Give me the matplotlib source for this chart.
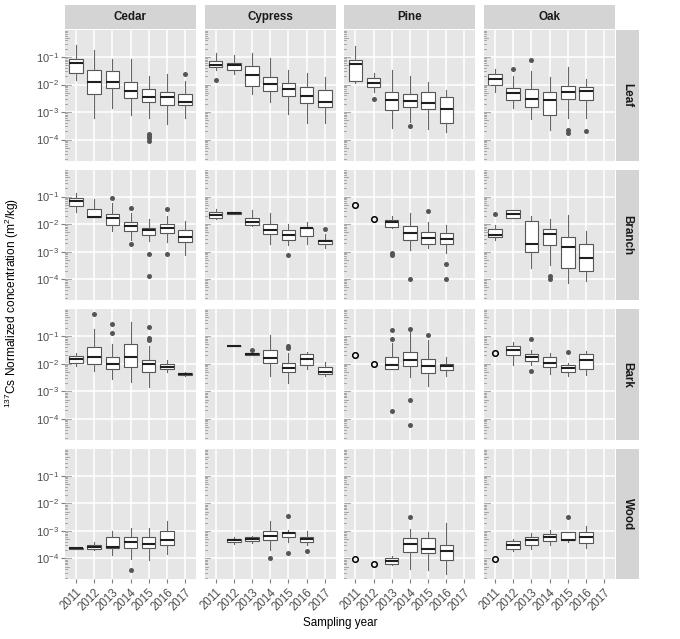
"""
Faceted boxplots of 137Cs normalized concentration by sampling year,
tree species (columns) and organ (rows). ggplot-like styling.
"""

import matplotlib
matplotlib.use("Agg")
import matplotlib.pyplot as plt
import numpy as np

plt.rcParams.update({
    "font.family": ["Liberation Sans", "DejaVu Sans"],
    "mathtext.fontset": "custom",
    "mathtext.rm": "Liberation Sans",
    "mathtext.it": "Liberation Sans:italic",
    "mathtext.bf": "Liberation Sans:bold",
})

YEARS = [2011, 2012, 2013, 2014, 2015, 2016, 2017]
SPECIES = ["Cedar", "Cypress", "Pine", "Oak"]
ORGANS = ["Leaf", "Branch", "Bark", "Wood"]

# box stats, log10 of concentration: (whisker low, q1, median, q3, whisker high)
leaf_cedar = [(-1.85, -1.59, -1.22, -1.06, -0.55), (-3.21, -2.35, -1.90, -1.49, -0.73),
              (-2.85, -2.13, -1.90, -1.51, -1.07), (-3.11, -2.50, -2.24, -1.90, -1.07),
              (-3.23, -2.65, -2.44, -2.15, -1.70), (-3.45, -2.76, -2.46, -2.28, -1.63),
              (-3.21, -2.76, -2.65, -2.33, -1.88)]
leaf_cypress = [(-1.46, -1.38, -1.28, -1.16, -0.85), (-1.61, -1.48, -1.30, -1.21, -0.91),
                (-2.35, -2.05, -1.66, -1.33, -0.85), (-2.62, -2.24, -1.98, -1.72, -1.05),
                (-3.07, -2.40, -2.17, -1.94, -1.48), (-3.39, -2.66, -2.40, -2.10, -1.57),
                (-3.39, -2.80, -2.65, -2.20, -1.73)]
leaf_pine = [(-1.95, -1.87, -1.24, -1.11, -0.61), (-2.26, -2.10, -1.94, -1.78, -1.57),
             (-3.57, -2.93, -2.55, -2.28, -1.49), (-3.37, -2.80, -2.60, -2.34, -1.68),
             (-3.61, -2.90, -2.68, -2.28, -1.90), (-3.72, -3.38, -2.88, -2.44, -2.20),
             None]
leaf_oak = [(-2.26, -2.02, -1.80, -1.63, -1.45), (-2.87, -2.57, -2.30, -2.13, -1.68),
            (-3.27, -2.80, -2.51, -2.18, -1.52), (-3.67, -3.12, -2.55, -2.27, -1.72),
            (-3.20, -2.54, -2.27, -2.04, -1.35), (-3.23, -2.56, -2.23, -2.10, -1.79),
            None]

branch_cedar = [(-1.57, -1.33, -1.15, -1.06, -0.88), (-1.73, -1.73, -1.73, -1.46, -1.10),
                (-2.24, -2.04, -1.79, -1.65, -1.24), (-2.59, -2.24, -2.07, -1.93, -1.59),
                (-2.61, -2.41, -2.23, -2.15, -1.83), (-2.65, -2.34, -2.13, -2.00, -1.71),
                (-3.13, -2.65, -2.46, -2.23, -1.88)]
branch_cypress = [(-1.80, -1.77, -1.67, -1.56, -1.44), (-1.65, -1.63, -1.60, -1.57, -1.55),
                  (-2.07, -2.05, -1.91, -1.78, -1.49), (-2.71, -2.37, -2.20, -2.01, -1.59),
                  (-2.76, -2.56, -2.41, -2.23, -2.01), (-2.74, -2.44, -2.15, -2.13, -1.93),
                  (-2.88, -2.73, -2.62, -2.56, -2.37)]
branch_pine = [None, None,
               (-2.13, -2.10, -1.94, -1.85, -1.71), (-2.95, -2.56, -2.32, -2.07, -1.59),
               (-2.85, -2.71, -2.52, -2.29, -1.93), (-3.05, -2.74, -2.54, -2.34, -2.04),
               None]
branch_oak = [(-2.59, -2.46, -2.40, -2.17, -2.05), (-1.79, -1.79, -1.63, -1.50, -1.50),
              (-3.61, -3.01, -2.74, -1.90, -1.71), (-3.50, -2.77, -2.37, -2.16, -1.83),
              (-4.13, -3.59, -2.84, -2.45, -1.67), (-4.06, -3.70, -3.23, -2.72, -2.24),
              None]

bark_cedar = [(-2.10, -1.98, -1.83, -1.73, -1.61), (-2.26, -2.00, -1.77, -1.41, -0.73),
              (-2.54, -2.20, -2.01, -1.77, -1.28), (-2.65, -2.12, -1.77, -1.27, -0.48),
              (-2.85, -2.29, -2.01, -1.87, -1.37), (-2.29, -2.21, -2.11, -2.00, -1.85),
              (-2.44, -2.41, -2.39, -2.34, -2.29)]
bark_cypress = [None, (-1.37, -1.37, -1.37, -1.37, -1.37),
                (-1.70, -1.70, -1.65, -1.61, -1.61), (-2.46, -1.98, -1.80, -1.49, -0.94),
                (-2.71, -2.30, -2.16, -1.98, -1.61), (-2.20, -2.04, -1.83, -1.65, -1.59),
                (-2.43, -2.38, -2.29, -2.13, -1.95)]
bark_pine = [None, None,
             (-2.20, -2.20, -2.04, -1.77, -1.24), (-2.50, -2.10, -1.88, -1.59, -0.76),
             (-2.80, -2.34, -2.09, -1.82, -1.15), (-2.43, -2.22, -2.10, -2.00, -1.77),
             None]
bark_oak = [None, (-2.04, -1.68, -1.49, -1.34, -1.21),
            (-2.04, -1.89, -1.74, -1.65, -1.49), (-2.39, -2.13, -1.96, -1.76, -1.61),
            (-2.46, -2.29, -2.16, -2.06, -1.98), (-2.41, -2.20, -1.88, -1.65, -1.54),
            None]

wood_cedar = [(-3.66, -3.66, -3.63, -3.61, -3.61), (-3.68, -3.66, -3.60, -3.52, -3.40),
              (-3.87, -3.63, -3.57, -3.24, -3.00), (-4.04, -3.61, -3.39, -3.21, -2.90),
              (-4.06, -3.62, -3.46, -3.24, -2.89), (-3.83, -3.52, -3.32, -3.02, -2.63),
              None]
wood_cypress = [None, (-3.49, -3.41, -3.34, -3.29, -3.24),
                (-3.44, -3.37, -3.28, -3.23, -3.20), (-3.68, -3.34, -3.17, -2.99, -2.65),
                (-3.40, -3.23, -3.09, -3.04, -2.96), (-3.52, -3.41, -3.30, -3.22, -3.02),
                None]
wood_pine = [None, None,
             (-4.24, -4.22, -4.09, -3.99, -3.91), (-4.39, -3.76, -3.49, -3.26, -2.94),
             (-4.41, -3.80, -3.66, -3.26, -3.04), (-4.57, -4.07, -3.73, -3.50, -2.71),
             None]
wood_oak = [None, (-3.73, -3.65, -3.50, -3.38, -3.29),
            (-3.66, -3.50, -3.34, -3.21, -3.07), (-3.51, -3.38, -3.22, -3.10, -2.98),
            (-3.40, -3.35, -3.32, -3.05, -3.04), (-3.62, -3.45, -3.24, -3.05, -2.84),
            None]

# outliers (year, log10 value)
leaf_cedar_out = [(2015, -3.78), (2015, -3.88), (2015, -3.96), (2015, -4.05), (2017, -1.61)]
leaf_cypress_out = [(2011, -1.83)]
leaf_pine_out = [(2012, -2.54), (2014, -3.52)]
leaf_oak_out = [(2012, -1.44), (2013, -1.12), (2015, -3.66), (2015, -3.76), (2016, -3.68)]
branch_cedar_out = [(2013, -1.04), (2014, -1.40), (2014, -2.74), (2015, -3.09), (2015, -3.89),
                    (2016, -1.44), (2016, -3.09)]
branch_cypress_out = [(2015, -3.11), (2017, -2.17)]
branch_pine_out = [(2013, -3.04), (2013, -3.12), (2014, -4.01), (2015, -1.52),
                   (2016, -3.45), (2016, -4.01)]
branch_oak_out = [(2011, -1.63), (2014, -3.90), (2014, -4.00)]
bark_cedar_out = [(2012, -0.21), (2013, -0.56), (2013, -0.88), (2015, -0.68), (2015, -1.07),
                  (2015, -1.15)]
bark_cypress_out = [(2013, -1.49), (2015, -1.37), (2015, -1.44)]
bark_pine_out = [(2013, -0.79), (2013, -1.11), (2013, -3.73), (2014, -0.73), (2014, -3.32),
                 (2014, -4.23), (2015, -0.95)]
bark_oak_out = [(2013, -1.12), (2013, -2.26), (2015, -1.57)]
wood_cedar_out = [(2014, -4.43)]
wood_cypress_out = [(2014, -3.99), (2015, -2.46), (2015, -3.79), (2016, -3.74)]
wood_pine_out = [(2014, -2.50)]
wood_oak_out = [(2015, -2.51)]

# single measurements drawn as open circles (year, log10 value)
branch_pine_single = [(2011, -1.30), (2012, -1.80)]
bark_pine_single = [(2011, -1.68), (2012, -2.00)]
bark_oak_single = [(2011, -1.60)]
wood_pine_single = [(2011, -4.01), (2012, -4.22)]
wood_oak_single = [(2011, -4.04)]

BOXES = {
    "Leaf": [leaf_cedar, leaf_cypress, leaf_pine, leaf_oak],
    "Branch": [branch_cedar, branch_cypress, branch_pine, branch_oak],
    "Bark": [bark_cedar, bark_cypress, bark_pine, bark_oak],
    "Wood": [wood_cedar, wood_cypress, wood_pine, wood_oak],
}
OUTLIERS = {
    "Leaf": [leaf_cedar_out, leaf_cypress_out, leaf_pine_out, leaf_oak_out],
    "Branch": [branch_cedar_out, branch_cypress_out, branch_pine_out, branch_oak_out],
    "Bark": [bark_cedar_out, bark_cypress_out, bark_pine_out, bark_oak_out],
    "Wood": [wood_cedar_out, wood_cypress_out, wood_pine_out, wood_oak_out],
}
SINGLES = {
    ("Branch", "Pine"): branch_pine_single,
    ("Bark", "Pine"): bark_pine_single,
    ("Bark", "Oak"): bark_oak_single,
    ("Wood", "Pine"): wood_pine_single,
    ("Wood", "Oak"): wood_oak_single,
}

W, H = 680, 639
PANEL_BG = "#E6E6E6"
STRIP_BG = "#D4D4D4"
TEXT_GREY = "#4D4D4D"


def px_rect(x0, y0, w, h):
    return [x0 / W, 1 - (y0 + h) / H, w / W, h / H]


fig = plt.figure(figsize=(W / 100, H / 100), dpi=100)

col_left = [65 + i * 139.7 for i in range(4)]
row_top = [30 + i * 139.6 for i in range(4)]
pw, ph = 131, 130.5
ylo, yhi = 10 ** -4.76, 10 ** -0.02

for r, organ in enumerate(ORGANS):
    for c, sp in enumerate(SPECIES):
        ax = fig.add_axes(px_rect(col_left[c], row_top[r], pw, ph))
        ax.set_facecolor(PANEL_BG)
        ax.set_yscale("log")
        ax.set_xlim(0.4, 7.6)
        ax.set_ylim(ylo, yhi)

        stats, pos = [], []
        for i, b in enumerate(BOXES[organ][c]):
            if b is None:
                continue
            lo, q1, med, q3, hi = [10 ** v for v in b]
            fl = [10 ** v for (yr, v) in OUTLIERS[organ][c] if yr == YEARS[i]]
            stats.append(dict(whislo=lo, q1=q1, med=med, q3=q3, whishi=hi, fliers=fl))
            pos.append(i + 1)
        ax.bxp(stats, positions=pos, widths=0.74, showcaps=False, patch_artist=True,
               boxprops=dict(facecolor="white", edgecolor="#555555", linewidth=0.8),
               whiskerprops=dict(color="#666666", linewidth=0.8),
               medianprops=dict(color="#1f1f1f", linewidth=1.5),
               flierprops=dict(marker="o", markerfacecolor="#555555",
                               markeredgecolor="none", markersize=3.6))

        single = SINGLES.get((organ, sp), [])
        if single:
            ax.plot([YEARS.index(yr) + 1 for yr, v in single], [10 ** v for yr, v in single],
                    "o", mfc="none", mec="black", ms=4, mew=1.1, zorder=5)

        # grid
        ax.set_axisbelow(True)
        ax.set_xticks(range(1, 8))
        ax.set_yticks([10.0 ** k for k in range(-4, 0)])
        ax.yaxis.set_minor_locator(matplotlib.ticker.NullLocator())
        ax.grid(True, which="major", color="white", linewidth=1.1)
        for s in ax.spines.values():
            s.set_visible(False)

        # log ticks along the inside left edge
        trans = ax.get_yaxis_transform()
        for k in range(-5, 1):
            for m in range(1, 10):
                yv = m * 10.0 ** k
                if not (ylo <= yv <= yhi):
                    continue
                ln = 5.5 if m == 1 else (3.5 if m == 5 else 2.0)
                ax.plot([0, ln / pw], [yv, yv], color="#9A9A9A", lw=0.6,
                        transform=trans, clip_on=False, zorder=3)

        ax.tick_params(colors="#7F7F7F", length=3, width=0.8, labelcolor=TEXT_GREY,
                       labelsize=8)
        if c == 0:
            ax.set_yticklabels([r"$10^{%d}$" % k for k in range(-4, 0)])
            ax.tick_params(axis="y", pad=1.5)
        else:
            ax.tick_params(axis="y", left=False, labelleft=False)
        if r == 3:
            ax.set_xticklabels([str(y) for y in YEARS], rotation=45, ha="right",
                               va="top", rotation_mode="anchor")
            ax.tick_params(axis="x", pad=2, labelsize=8.3)
        else:
            ax.tick_params(axis="x", bottom=False, labelbottom=False)

# strips
for c, sp in enumerate(SPECIES):
    sa = fig.add_axes(px_rect(col_left[c], 5, pw, 24))
    sa.set_facecolor(STRIP_BG)
    sa.set_xticks([])
    sa.set_yticks([])
    for s in sa.spines.values():
        s.set_visible(False)
    sa.text(0.5, 0.5, sp, ha="center", va="center", fontsize=8.4, fontweight="bold",
            color="#1A1A1A", transform=sa.transAxes)

for r, organ in enumerate(ORGANS):
    sa = fig.add_axes(px_rect(616, row_top[r], 23, ph))
    sa.set_facecolor(STRIP_BG)
    sa.set_xticks([])
    sa.set_yticks([])
    for s in sa.spines.values():
        s.set_visible(False)
    sa.text(0.5, 0.5, organ, ha="center", va="center", fontsize=8.4, fontweight="bold",
            color="#1A1A1A", rotation=-90, transform=sa.transAxes)

fig.text(12 / W, 1 - 303 / H, r"$^{137}$Cs Normalized concentration (m$^2$/kg)",
         rotation=90, ha="center", va="center", fontsize=8.6, color="black")
fig.text(340 / W, 1 - 623 / H, "Sampling year", ha="center", va="center",
         fontsize=8.4, color="black")

fig.savefig("out.png", dpi=100, facecolor="white")
